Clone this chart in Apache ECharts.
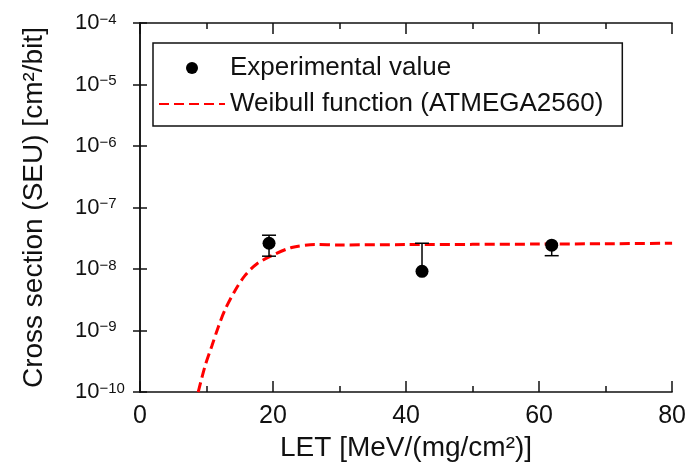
<!DOCTYPE html>
<html>
<head>
<meta charset="utf-8">
<script src="https://cdn.jsdelivr.net/npm/echarts@6/dist/echarts.min.js"></script>
<style>
  html, body { margin: 0; padding: 0; background: #fff; }
  #main { width: 689px; height: 467px; }
</style>
</head>
<body>
<div id="main"></div>
<script>
// measured points (LET, cross section) and their error bar ends
var expLet = [19.4, 42.4, 61.9];
var expSigma = [2.63e-8, 9.2e-9, 2.45e-8];
var errLow = [1.62e-8, 9.2e-9, 1.65e-8];
var errHigh = [3.55e-8, 2.63e-8, 2.45e-8];

// Weibull fit curve
var fitLet = [8.75, 9.8, 10.8, 11.8, 12.8, 14.3, 15.8, 17.5, 19.8, 22.8, 26.3, 30, 40, 50, 60, 70, 80];
var fitSigma = [1e-10, 2.7e-10, 5.6e-10, 1.17e-9, 2.2e-9, 4.5e-9, 7.9e-9, 1.2e-8, 1.65e-8, 2.24e-8, 2.5e-8, 2.47e-8, 2.5e-8, 2.52e-8, 2.55e-8, 2.58e-8, 2.63e-8];

var xTicks = [0, 20, 40, 60, 80];
var yExponents = [-10, -9, -8, -7, -6, -5, -4];

var font = 'Liberation Sans, Arial, sans-serif';
var chart = echarts.init(document.getElementById('main'));

var expData = expLet.map(function (x, i) { return [x, expSigma[i]]; });
var errData = expLet.map(function (x, i) { return [x, errLow[i], errHigh[i], expSigma[i]]; });
var fitData = fitLet.map(function (x, i) { return [x, fitSigma[i]]; });

var axisLine = { show: true, lineStyle: { color: '#111', width: 1.5 } };
var xTick = { inside: true, length: 11, lineStyle: { color: '#111', width: 1.5 } };
var xMinor = { show: true, splitNumber: 2, length: 6, lineStyle: { color: '#111', width: 1.5 } };
var yTick = { inside: true, length: 7, lineStyle: { color: '#111', width: 1.5 } };

function yLabel(v) {
  var e = Math.round(Math.log(v) / Math.LN10);
  if (yExponents.indexOf(e) < 0) return '';
  return '{b|10}{e|\u2212' + Math.abs(e) + '}';
}

var option = {
  animation: false,
  textStyle: { fontFamily: font },
  grid: { left: 140, right: 16, top: 23, bottom: 70 },
  legend: {
    left: 153, top: 43, orient: 'vertical',
    borderColor: '#111', borderWidth: 1.5,
    padding: [12, 19, 9, 5], itemGap: 10,
    itemWidth: 66, itemHeight: 12,
    selectedMode: false,
    textStyle: { fontSize: 26, color: '#111', fontFamily: font },
    data: [
      { name: 'Experimental value', icon: 'circle' },
      { name: 'Weibull function (ATMEGA2560)', itemStyle: { opacity: 0 } }
    ]
  },
  xAxis: [{
    type: 'value', min: xTicks[0], max: xTicks[xTicks.length - 1], interval: 20,
    position: 'bottom',
    axisLine: axisLine,
    axisTick: xTick,
    minorTick: xMinor,
    splitLine: { show: false },
    axisLabel: { fontSize: 25, color: '#111', margin: 12 },
    name: 'LET [MeV/(mg/cm\u00b2)]', nameLocation: 'middle', nameGap: 34,
    nameTextStyle: { fontSize: 28, color: '#111' }
  }, {
    type: 'value', min: 0, max: 80, interval: 20,
    position: 'top',
    axisLine: axisLine,
    axisTick: xTick,
    minorTick: xMinor,
    splitLine: { show: false },
    axisLabel: { show: false }
  }],
  yAxis: [{
    type: 'log', logBase: 10, min: 1e-10, max: 1e-4, interval: 1, splitNumber: 6,
    position: 'left',
    axisLine: axisLine,
    axisTick: yTick,
    splitLine: { show: false },
    axisLabel: {
      margin: 65, align: 'left', color: '#111', fontSize: 22, formatter: yLabel,
      rich: {
        b: { fontSize: 22, color: '#111', fontFamily: font },
        e: { fontSize: 15, color: '#111', fontFamily: font, verticalAlign: 'top' }
      }
    },
    name: 'Cross section (SEU) [cm\u00b2/bit]', nameLocation: 'middle', nameGap: 92,
    nameTextStyle: { fontSize: 28, color: '#111' }
  }, {
    type: 'log', logBase: 10, min: 1e-10, max: 1e-4, interval: 1, splitNumber: 6,
    position: 'right',
    axisLine: axisLine,
    axisTick: yTick,
    splitLine: { show: false },
    axisLabel: { show: false }
  }],
  series: [{
    name: 'Weibull function (ATMEGA2560)',
    type: 'line',
    data: fitData,
    smooth: 0.3,
    symbol: 'none',
    lineStyle: { color: '#ff0000', width: 3, type: [10, 5] },
    itemStyle: { color: '#ff0000' },
    z: 2
  }, {
    name: 'errors',
    type: 'custom',
    data: errData,
    renderItem: function (params, api) {
      var x = api.value(0), lo = api.value(1), hi = api.value(2), y = api.value(3);
      var pLo = api.coord([x, lo]), pHi = api.coord([x, hi]);
      var half = 7;
      var st = { stroke: '#000', lineWidth: 1.5 };
      var kids = [{ type: 'line', shape: { x1: pLo[0], y1: pLo[1], x2: pHi[0], y2: pHi[1] }, style: st }];
      if (hi > y) kids.push({ type: 'line', shape: { x1: pHi[0] - half, y1: pHi[1], x2: pHi[0] + half, y2: pHi[1] }, style: st });
      if (lo < y) kids.push({ type: 'line', shape: { x1: pLo[0] - half, y1: pLo[1], x2: pLo[0] + half, y2: pLo[1] }, style: st });
      return { type: 'group', children: kids };
    },
    z: 3
  }, {
    name: 'Experimental value',
    type: 'scatter',
    data: expData,
    symbol: 'circle',
    symbolSize: 13,
    itemStyle: { color: '#000', opacity: 1 },
    z: 4
  }]
};

chart.setOption(option);
</script>
</body>
</html>
